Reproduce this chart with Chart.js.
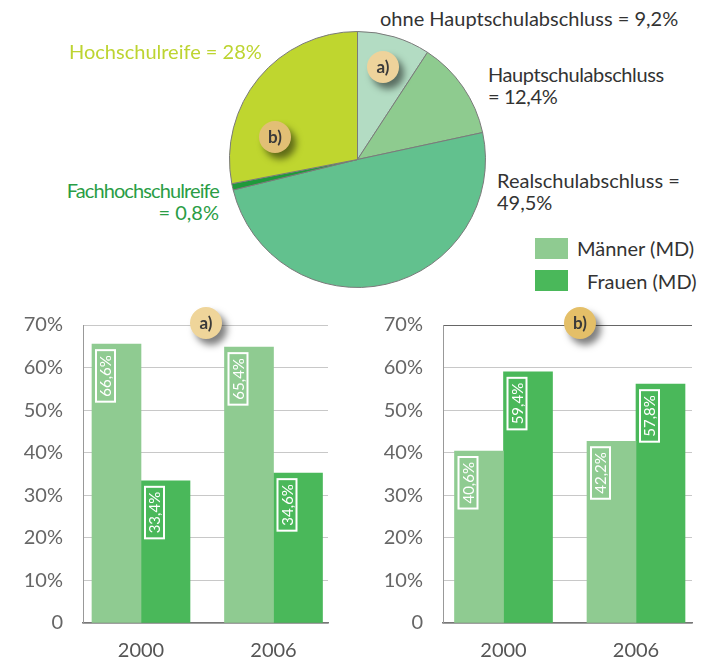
<!DOCTYPE html>
<html>
<head>
<meta charset="utf-8">
<script src="https://cdn.jsdelivr.net/npm/chart.js@4"></script>
<style>
  body { margin: 0; background: #fff; width: 713px; height: 660px; position: relative; overflow: hidden; font-family: Lato, "Open Sans", sans-serif; }
  canvas { position: absolute; }
  .txt { position: absolute; white-space: nowrap; font-size: 20px; line-height: 22px; color: #333; }
  .badge { position: absolute; width: 32px; height: 32px; border-radius: 50%; font: bold 17px Lato, sans-serif; line-height: 32px; text-align: center; color: #3a3a3a; box-shadow: 5px 6px 7px rgba(0,0,0,.5); }
  .swatch { position: absolute; width: 33px; height: 21px; }
</style>
</head>
<body>
<canvas id="pie" width="257" height="257" style="left:229px;top:31px"></canvas>
<canvas id="barA" width="340" height="360" style="left:0;top:300px"></canvas>
<canvas id="barB" width="353" height="360" style="left:360px;top:300px"></canvas>

<div class="txt" style="left:380px;top:7px">ohne Hauptschulabschluss = 9,2%</div>
<div class="txt" style="left:488px;top:63px;letter-spacing:-0.4px">Hauptschulabschluss<br>= 12,4%</div>
<div class="txt" style="left:497px;top:169px">Realschulabschluss =<br>49,5%</div>
<div class="txt" style="left:69px;top:40px;color:#bdd431">Hochschulreife = 28%</div>
<div class="txt" style="right:494px;top:179px;color:#2a9d45;text-align:right"><span style="letter-spacing:-0.9px">Fachhochschulreife</span><br>= 0,8%</div>

<div class="swatch" style="left:535px;top:238px;background:#8fcb91"></div>
<div class="txt" style="left:577px;top:237px">Männer (MD)</div>
<div class="swatch" style="left:535px;top:270px;background:#4ab85a"></div>
<div class="txt" style="left:587px;top:270px">Frauen (MD)</div>

<div class="badge" style="left:367px;top:51px;background:#eed39b">a)</div>
<div class="badge" style="left:259px;top:121px;background:#e2bf75">b)</div>
<div class="badge" style="left:190px;top:307px;background:#efd59a">a)</div>
<div class="badge" style="left:564px;top:307px;background:#e4bf68">b)</div>

<script>
const pieLabels = ['ohne Hauptschulabschluss', 'Hauptschulabschluss', 'Realschulabschluss', 'Fachhochschulreife', 'Hochschulreife'];
const pieValues = [9.2, 12.4, 49.5, 0.8, 28];
const pieColors = ['#b3dcc3', '#8ecb8f', '#62c18e', '#1f9a3b', '#bfd62f'];

const years = [2000, 2006];
const yTickValues = [0, 10, 20, 30, 40, 50, 60, 70];
const yTickLabels = ['0', '10%', '20%', '30%', '40%', '50%', '60%', '70%'];

// a) Hauptschulabschluss
const menA = [65.5, 64.8];
const womenA = [33.4, 35.2];
const menALabels = ['66,6%', '65,4%'];
const womenALabels = ['33,4%', '34,6%'];

// b) Hochschulreife
const menB = [40.4, 42.7];
const womenB = [59.0, 56.1];
const menBLabels = ['40,6%', '42,2%'];
const womenBLabels = ['59,4%', '57,8%'];

const menColor = '#8fcb91';
const womenColor = '#4ab85a';

Chart.defaults.font.family = 'Lato, "Open Sans", sans-serif';
Chart.defaults.animation = false;

new Chart(document.getElementById('pie'), {
  type: 'pie',
  data: {
    labels: pieLabels,
    datasets: [{ data: pieValues, backgroundColor: pieColors, borderColor: '#7a7a7a', borderWidth: 1 }]
  },
  options: {
    responsive: false,
    plugins: { legend: { display: false }, tooltip: { enabled: false } }
  }
});

// white framed, rotated value text near the top of each bar
const valueBoxes = {
  id: 'valueBoxes',
  afterDatasetsDraw(chart, args, opts) {
    const ctx = chart.ctx;
    chart.data.datasets.forEach((ds, di) => {
      chart.getDatasetMeta(di).data.forEach((bar, i) => {
        const txt = opts.labels[di][i];
        ctx.save();
        ctx.font = '15px Lato, sans-serif';
        const tw = ctx.measureText(txt).width;
        const w = 19, h = tw + 10;
        const left = bar.x - bar.width / 2 + 4;
        const top = bar.y + 6;
        ctx.strokeStyle = '#fff';
        ctx.lineWidth = 2;
        ctx.strokeRect(left, top, w, h);
        ctx.translate(left + w / 2 + 1, top + h / 2);
        ctx.rotate(-Math.PI / 2);
        ctx.fillStyle = '#fff';
        ctx.textAlign = 'center';
        ctx.textBaseline = 'middle';
        ctx.fillText(txt, 0, 0);
        ctx.restore();
      });
    });
  }
};

function barChart(id, men, women, labels, xMin, xMax, padRight, topLineColor) {
  return new Chart(document.getElementById(id), {
    type: 'bar',
    data: {
      datasets: [
        { label: 'Männer (MD)', data: years.map((y, i) => ({ x: y, y: men[i] })), backgroundColor: menColor, barThickness: 49 },
        { label: 'Frauen (MD)', data: years.map((y, i) => ({ x: y, y: women[i] })), backgroundColor: womenColor, barThickness: 49 }
      ]
    },
    options: {
      responsive: false,
      layout: { padding: { top: 25, right: padRight, left: 0, bottom: 0 } },
      plugins: { legend: { display: false }, tooltip: { enabled: false }, valueBoxes: { labels } },
      scales: {
        x: {
          type: 'linear', min: xMin, max: xMax, offset: false,
          afterBuildTicks: s => { s.ticks = years.map(v => ({ value: v })); },
          afterFit: s => { s.height = 37; s.paddingLeft = 0; s.paddingRight = 0; },
          ticks: { autoSkip: false, callback: v => String(v), color: '#555', padding: 16, font: { size: 20 } },
          grid: { display: false, offset: false, drawTicks: false },
          border: { color: '#777', width: 1.5 }
        },
        y: {
          min: 0, max: 70,
          afterBuildTicks: s => { s.ticks = yTickValues.map(v => ({ value: v })); },
          afterFit: s => { s.width = 83; s.paddingTop = 0; s.paddingBottom = 0; },
          ticks: { callback: (v, i) => yTickLabels[i], color: '#666', padding: 20, font: { size: 20 } },
          grid: { drawTicks: false, color: c => c.tick && c.tick.value === 70 ? topLineColor : '#c8c8c8' },
          border: { color: '#999' }
        }
      }
    },
    plugins: [valueBoxes]
  });
}

barChart('barA', menA, womenA, [menALabels, womenALabels], 1997.374, 2008.468, 12, '#c8c8c8');
barChart('barB', menB, womenB, [menBLabels, womenBLabels], 1997.26, 2008.536, 21, '#666');
</script>
</body>
</html>
